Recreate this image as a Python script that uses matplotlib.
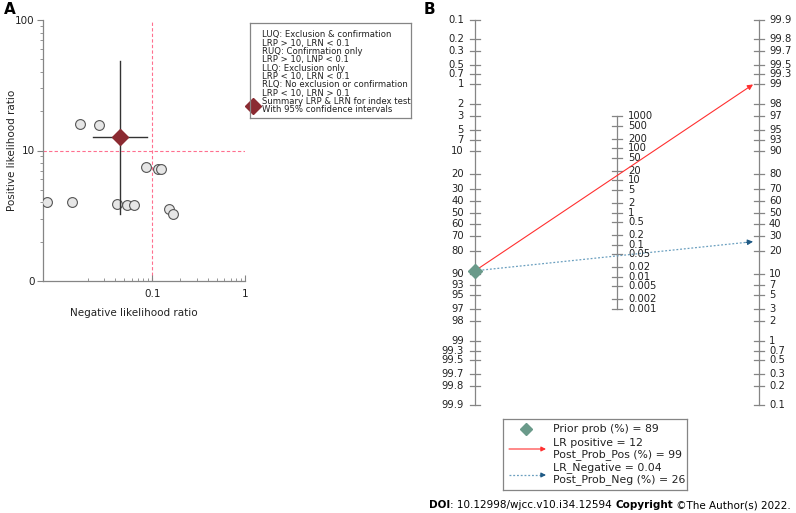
import numpy as np
import matplotlib

matplotlib.use("Agg")
import matplotlib.pyplot as plt

plt.rcParams["font.family"] = ["DejaVu Sans"]

W, H = 796, 513

# ---- panel A data: likelihood ratio scattergram ----
study_nlr = [0.0072, 0.0137, 0.0165, 0.0267, 0.042, 0.0538, 0.0636, 0.0847, 0.114, 0.125, 0.150, 0.169]
study_plr = [4.0, 4.0, 15.9, 15.8, 3.9, 3.85, 3.82, 7.5, 7.27, 7.2, 3.58, 3.24]
summary_nlr = 0.0445
summary_nlr_ci = [0.0226, 0.087]
summary_plr = 12.6
summary_plr_ci = [3.26, 48.1]
legend_a_lines = [
    "LUQ: Exclusion & confirmation",
    "LRP > 10, LRN < 0.1",
    "RUQ: Confirmation only",
    "LRP > 10, LNP < 0.1",
    "LLQ: Exclusion only",
    "LRP < 10, LRN < 0.1",
    "RLQ: No exclusion or confirmation",
    "LRP < 10, LRN > 0.1",
    "Summary LRP & LRN for index test",
    "With 95% confidence intervals",
]

# ---- panel B data: Fagan nomogram ----
prior = 89
lr_pos = 12
post_pos = 99
lr_neg = 0.04
post_neg = 26
prob_ticks = [0.1, 0.2, 0.3, 0.5, 0.7, 1, 2, 3, 5, 7, 10, 20, 30, 40, 50, 60, 70, 80,
              90, 93, 95, 97, 98, 99, 99.3, 99.5, 99.7, 99.8, 99.9]
lr_ticks = [1000, 500, 200, 100, 50, 20, 10, 5, 2, 1, 0.5, 0.2, 0.1, 0.05, 0.02,
            0.01, 0.005, 0.002, 0.001]

GRAY = "#858585"
TXT = "#222222"


def logit(p):
    p = np.asarray(p, dtype=float) / 100.0
    return np.log(p / (1 - p))


def px_axes(fig, x, y, w, h):
    return fig.add_axes([x / W, 1 - (y + h) / H, w / W, h / H])


fig = plt.figure(figsize=(W / 100, H / 100), dpi=100)

# ================= panel A =================
axA = px_axes(fig, 43, 20, 202, 261)
axA.set_xscale("log")
axA.set_yscale("log")
axA.set_xlim(0.0066, 1)
axA.set_ylim(1, 100)
axA.axhline(10, color="#ff6f8f", ls=(0, (3, 2)), lw=0.8, zorder=1)
axA.axvline(0.1, color="#ff6f8f", ls=(0, (3, 2)), lw=0.8, zorder=1)
axA.scatter(study_nlr, study_plr, s=50, facecolor="#e6e6e6", edgecolor="#555555",
            lw=0.8, zorder=3)
axA.plot(summary_nlr_ci, [summary_plr] * 2, color="#333333", lw=1.0, zorder=4)
axA.plot([summary_nlr] * 2, summary_plr_ci, color="#333333", lw=1.0, zorder=4)
axA.plot([summary_nlr], [summary_plr], marker="D", ms=8.5, color="#8b2b32", zorder=5)

for s in ("top", "right"):
    axA.spines[s].set_visible(False)
for s in ("left", "bottom"):
    axA.spines[s].set_color(GRAY)
    axA.spines[s].set_linewidth(0.9)
axA.set_yticks([1, 10, 100], ["0", "10", "100"])
axA.set_yticks([2, 3, 4, 5, 6, 7, 8, 9, 20, 30, 40, 50, 60, 70, 80, 90], minor=True)
axA.set_xticks([0.1, 1], ["0.1", "1"])
axA.set_xticks([0.02, 0.03, 0.04, 0.05, 0.06, 0.07, 0.08, 0.09,
                0.2, 0.3, 0.4, 0.5, 0.6, 0.7, 0.8, 0.9], [], minor=True)
axA.yaxis.set_minor_formatter(plt.NullFormatter())
axA.tick_params(axis="y", which="both", direction="out", color=GRAY, labelsize=7.5,
                labelcolor=TXT, pad=2)
axA.tick_params(axis="y", which="major", length=4)
axA.tick_params(axis="y", which="minor", length=2.5)
axA.tick_params(axis="x", which="both", direction="in", color=GRAY, labelsize=7.5,
                labelcolor=TXT, pad=6)
axA.tick_params(axis="x", which="major", length=4)
axA.tick_params(axis="x", which="minor", length=2.5)
fig.text(134 / W, 1 - 313 / H, "Negative likelihood ratio", ha="center", va="center",
         fontsize=7.5, color=TXT)
fig.text(12 / W, 1 - 150 / H, "Positive likelihood ratio", ha="center", va="center",
         rotation=90, fontsize=7.5, color=TXT)

# legend of panel A
legA = px_axes(fig, 250, 23, 161, 95)
legA.set_xlim(0, 161)
legA.set_ylim(95, 0)
legA.set_xticks([])
legA.set_yticks([])
for s in legA.spines.values():
    s.set_color(GRAY)
    s.set_linewidth(0.9)
for i, line in enumerate(legend_a_lines):
    legA.text(12, 12 + 8.3 * i, line, fontsize=6.15, color=TXT, va="center", ha="left")
legA.plot([3], [12 + 8.3 * 8.5], marker="D", ms=8, color="#8b2b32", clip_on=False)

# ================= panel B =================
L = float(logit(99.9))
axB = px_axes(fig, 475, 20, 284, 385)
axB.set_xlim(0, 1)
axB.set_ylim(-L, L)
axB.axis("off")

tick = 5 / 284
lab = dict(fontsize=7.2, color=TXT, va="center")
# left axis: prior probability (reversed logit)
axB.plot([0, 0], [-L, L], color=GRAY, lw=0.9, clip_on=False)
for p in prob_ticks:
    y = -float(logit(p))
    axB.plot([-tick, tick], [y, y], color=GRAY, lw=0.9, clip_on=False)
    axB.text(-11 / 284, y, f"{p:g}", ha="right", **lab)
# right axis: posterior probability
axB.plot([1, 1], [-L, L], color=GRAY, lw=0.9, clip_on=False)
for p in prob_ticks:
    y = float(logit(p))
    axB.plot([1 - tick, 1 + tick], [y, y], color=GRAY, lw=0.9, clip_on=False)
    axB.text(1 + 10 / 284, y, f"{p:g}", ha="left", **lab)
# middle axis: likelihood ratio
lr_y = [np.log(v) / 2 for v in lr_ticks]
axB.plot([0.5, 0.5], [min(lr_y), max(lr_y)], color=GRAY, lw=0.9)
for v, y in zip(lr_ticks, lr_y):
    axB.plot([0.5 - tick, 0.5 + tick], [y, y], color=GRAY, lw=0.9)
    axB.text(0.5 + 11 / 284, y, f"{v:g}", ha="left", **lab)

y0 = -float(logit(prior))
x_end = 0.979
axB.annotate("", xy=(x_end, float(logit(post_pos))), xytext=(0, y0),
             arrowprops=dict(arrowstyle="-|>", color="#ff3030", lw=0.8,
                             mutation_scale=8, shrinkA=0, shrinkB=0))
yn = float(logit(post_neg))
axB.plot([0, x_end - 0.02], [y0, y0 + (yn - y0) * (x_end - 0.02) / x_end],
         color="#6a9fbf", ls=(0, (1.5, 1.5)), lw=0.9)
axB.annotate("", xy=(x_end, yn), xytext=(x_end - 0.025, y0 + (yn - y0) * (x_end - 0.025) / x_end),
             arrowprops=dict(arrowstyle="-|>", color="#1f5a85", lw=0.8,
                             mutation_scale=8, shrinkA=0, shrinkB=0))
axB.plot([0], [y0], marker="D", ms=7.5, color="#6a9a8a", clip_on=False, zorder=5)

# legend of panel B
legB = px_axes(fig, 503, 419, 184, 71)
legB.set_xlim(0, 184)
legB.set_ylim(71, 0)
legB.set_xticks([])
legB.set_yticks([])
for s in legB.spines.values():
    s.set_color(GRAY)
    s.set_linewidth(0.9)
lt = dict(fontsize=7.8, color=TXT, va="center", ha="left")
legB.plot([23], [10], marker="D", ms=6, color="#6a9a8a")
legB.text(50, 10, f"Prior prob (%) = {prior}", **lt)
legB.annotate("", xy=(43, 30), xytext=(6, 30),
              arrowprops=dict(arrowstyle="-|>", color="#ff3030", lw=0.8,
                              mutation_scale=7, shrinkA=0, shrinkB=0))
legB.text(50, 24, f"LR positive = {lr_pos}", **lt)
legB.text(50, 35.5, f"Post_Prob_Pos (%) = {post_pos}", **lt)
legB.plot([6, 38], [56, 56], color="#6a9fbf", ls=(0, (1.5, 1.5)), lw=0.9)
legB.annotate("", xy=(43, 56), xytext=(38, 56),
              arrowprops=dict(arrowstyle="-|>", color="#1f5a85", lw=0.8,
                              mutation_scale=7, shrinkA=0, shrinkB=0))
legB.text(50, 49, f"LR_Negative = {lr_neg}", **lt)
legB.text(50, 60.5, f"Post_Prob_Neg (%) = {post_neg}", **lt)

# panel letters
fig.text(4 / W, 1 - 9 / H, "A", fontsize=11, fontweight="bold", va="center", ha="left")
fig.text(424 / W, 1 - 9 / H, "B", fontsize=11, fontweight="bold", va="center", ha="left")

# footer
parts = [("DOI", "bold"), (": 10.12998/wjcc.v10.i34.12594 ", "normal"),
         ("Copyright", "bold"), (" \u00a9The Author(s) 2022.", "normal")]
renderer = fig.canvas.get_renderer()
x = 429
for s, w in parts:
    t = fig.text(x / W, 1 - 505 / H, s, fontsize=7.5, fontweight=w, va="center", ha="left")
    x += t.get_window_extent(renderer).width

fig.savefig("out.png", dpi=100)
